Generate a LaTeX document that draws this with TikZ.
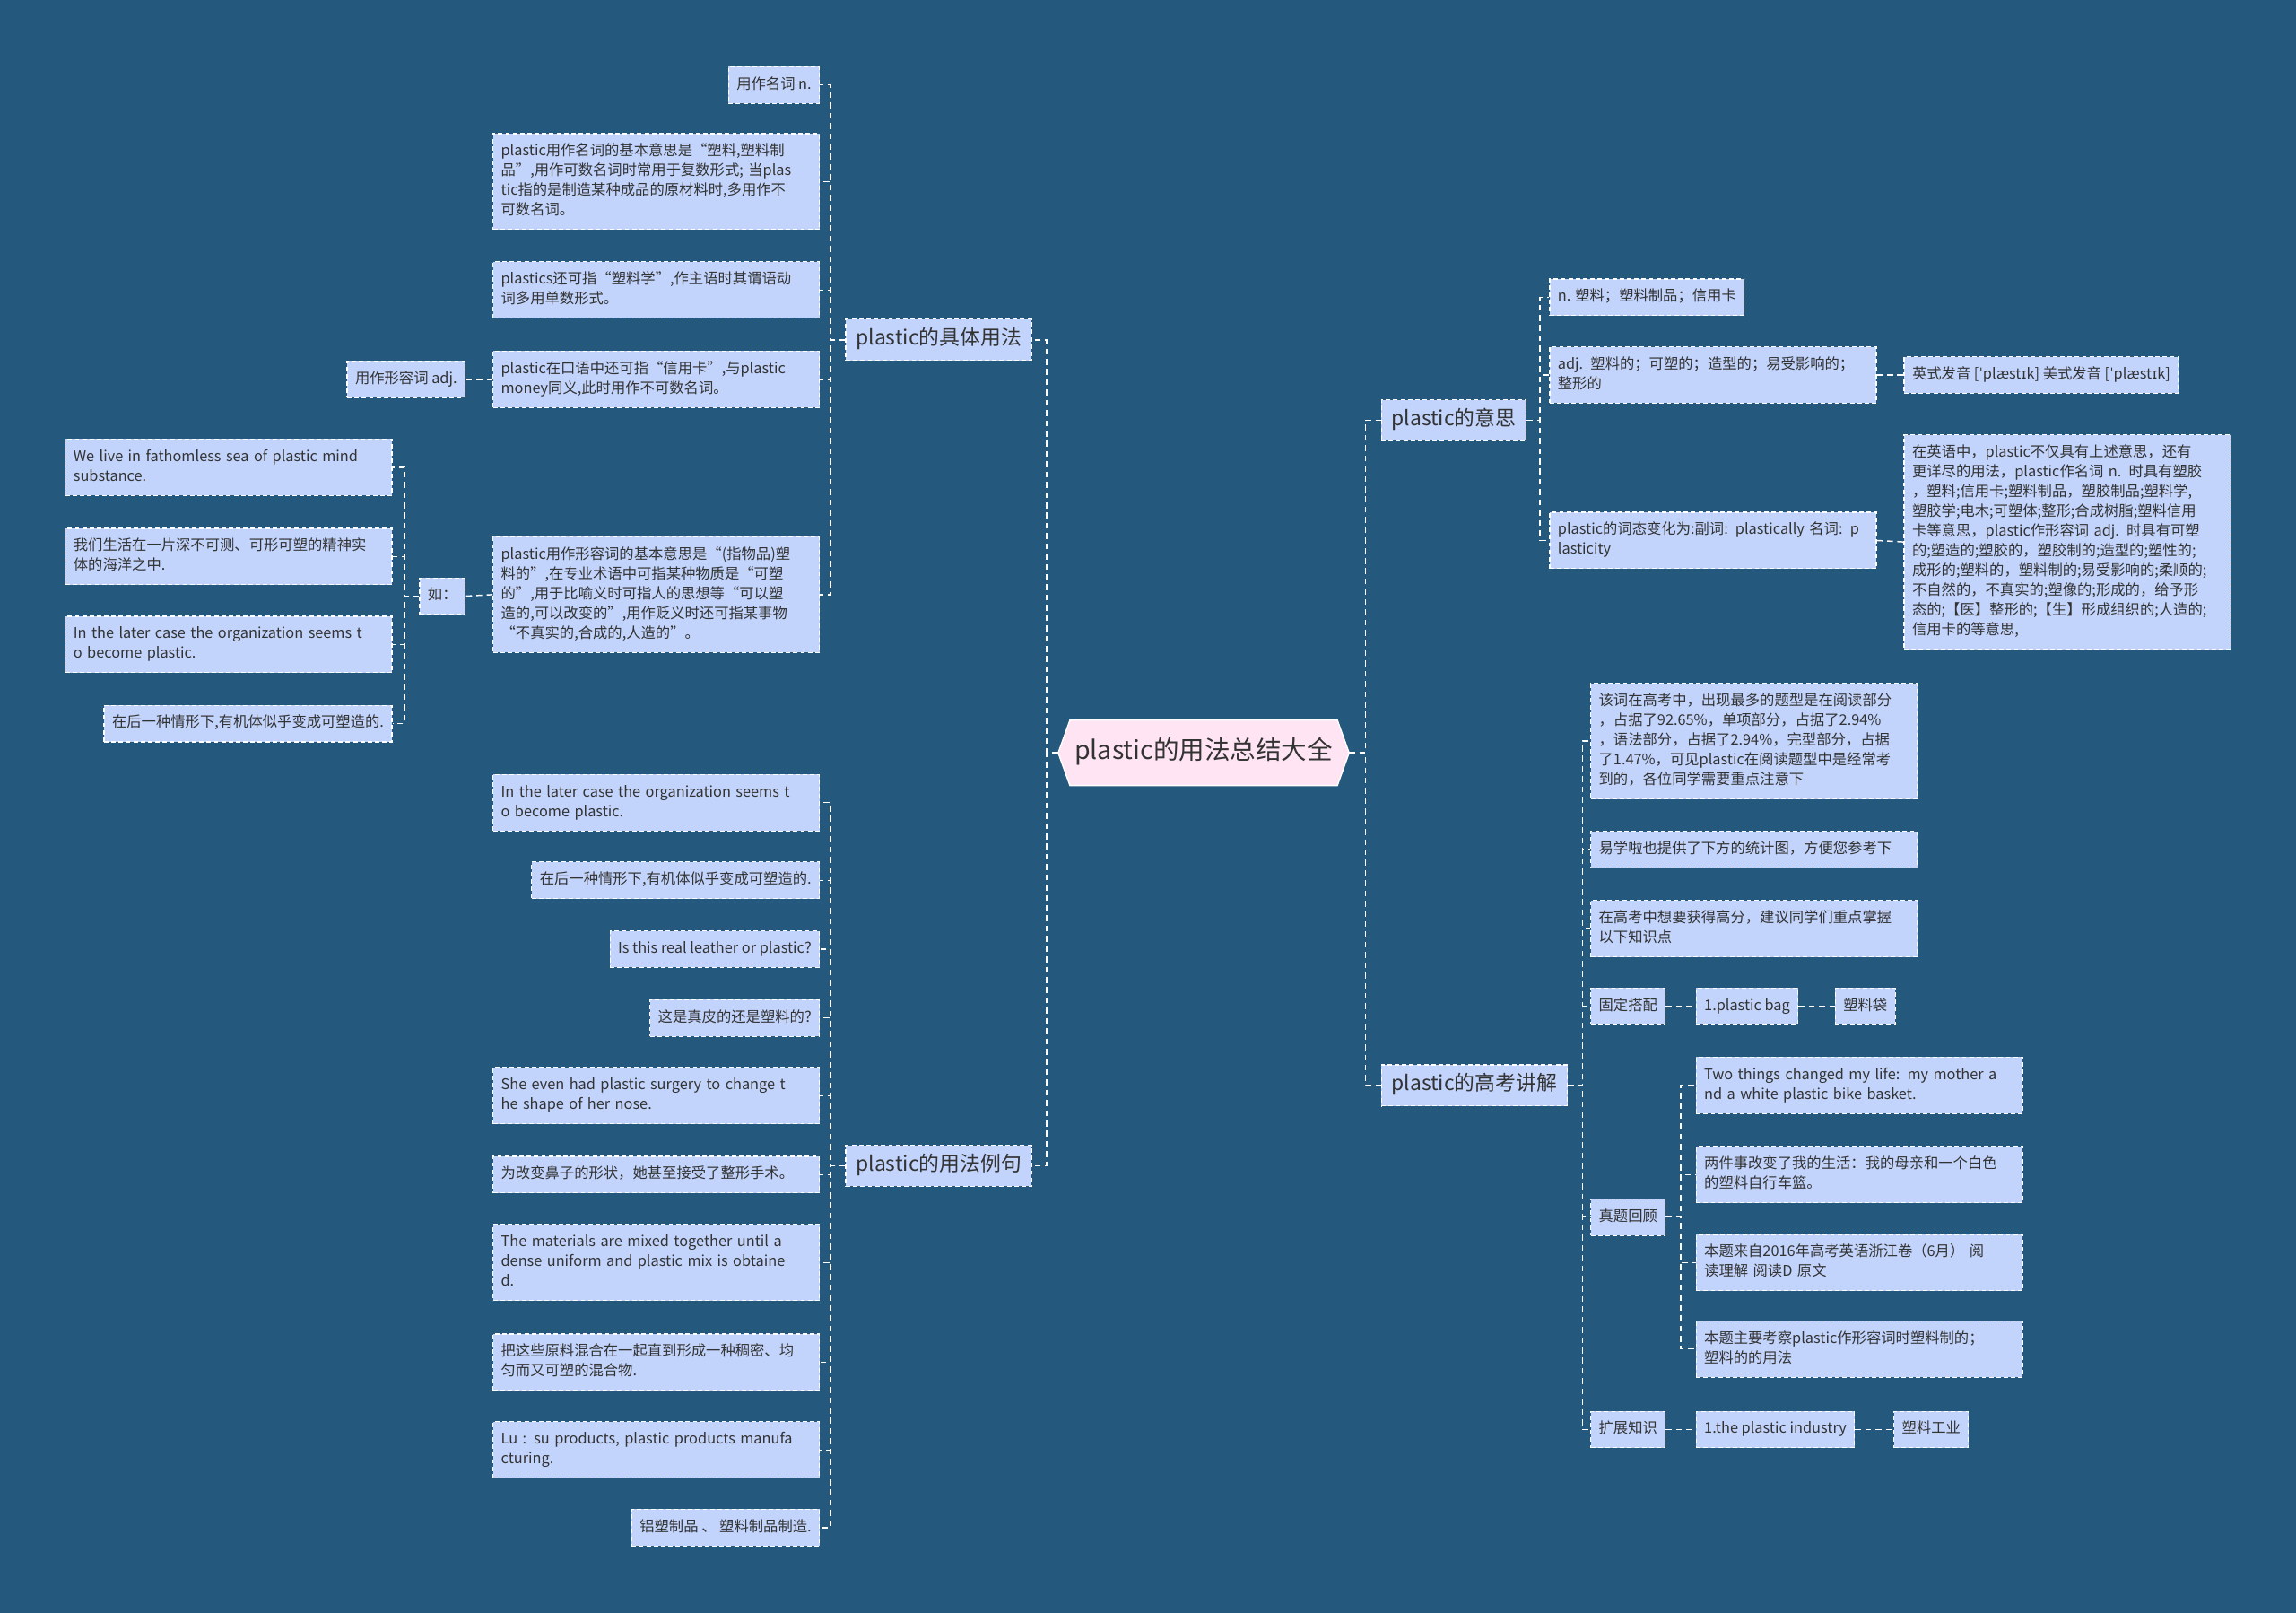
\documentclass[tikz,border=0pt]{standalone}
\usepackage{fontspec}
\setmainfont{Noto Sans CJK SC}
\newfontfamily\ipafont{DejaVu Sans}
\usetikzlibrary{backgrounds}
\definecolor{bgblue}{HTML}{24587C}
\definecolor{leafblue}{HTML}{C2D4FC}
\definecolor{rootpink}{HTML}{FFE4F4}
\definecolor{inkgray}{HTML}{333333}

\begin{document}
\begin{tikzpicture}[x=1pt, y=-1pt,
  link/.style={draw=white, line width=0.9pt, dash pattern=on 4pt off 3pt},
  leaf/.style={draw=white, line width=0.7pt, dash pattern=on 3pt off 2pt, fill=leafblue, text=inkgray,
    font=\fontsize{10}{13.5}\selectfont, inner xsep=5.5pt, inner ysep=5.75pt, align=left,
    execute at begin node=\strut, execute at end node=\strut},
  wide/.style={leaf, text width=212pt},
  topic/.style={leaf, font=\fontsize{14}{17}\selectfont, inner xsep=7pt, inner ysep=5.5pt},
  root/.style={text=inkgray, font=\fontsize{17.5}{21}\selectfont, inner xsep=11pt, inner ysep=11.5pt,
    execute at begin node=\strut}]
\begin{scope}[on background layer]
  \fill[bgblue] (0,0) rectangle (1568,1101);
\end{scope}

\node[root] (root) at (822,514) {plastic的用法总结大全};
\begin{scope}[on background layer]
  \filldraw[fill=rootpink, draw=white, line width=0.8pt] (root.west) -- ([xshift=8pt]root.north west)
    -- ([xshift=-8pt]root.north east) -- (root.east) -- ([xshift=-8pt]root.south east)
    -- ([xshift=8pt]root.south west) -- cycle;
\end{scope}

\node[topic, anchor=east] (usage) at (705,232) {plastic的具体用法};
\node[topic, anchor=east] (examples) at (705,796) {plastic的用法例句};
\node[topic, anchor=west] (meaning) at (943,287) {plastic的意思};
\node[topic, anchor=west] (exam) at (943,741) {plastic的高考讲解};

\node[leaf, anchor=east] (u1) at (560,58) {用作名词 n.};
\node[wide, anchor=east] (u2) at (560,124) {plastic用作名词的基本意思是“塑料,塑料制\\品”,用作可数名词时常用于复数形式; 当plas\\tic指的是制造某种成品的原材料时,多用作不\\可数名词。};
\node[wide, anchor=east] (u3) at (560,198) {plastics还可指“塑料学”,作主语时其谓语动\\词多用单数形式。};
\node[wide, anchor=east] (u4) at (560,259) {plastic在口语中还可指“信用卡”,与plastic\\money同义,此时用作不可数名词。};
\node[wide, anchor=east] (u5) at (560,406) {plastic用作形容词的基本意思是“(指物品)塑\\料的”,在专业术语中可指某种物质是“可塑\\的”,用于比喻义时可指人的思想等“可以塑\\造的,可以改变的”,用作贬义时还可指某事物\\“不真实的,合成的,人造的”。};
\node[leaf, anchor=east] (adj) at (318,259) {用作形容词 adj.};
\node[leaf, anchor=east] (eg) at (318,407) {如：};
\node[wide, anchor=east] (e1) at (268,319) {We live in fathomless sea of plastic mind\\substance.};
\node[wide, anchor=east] (e2) at (268,380) {我们生活在一片深不可测、可形可塑的精神实\\体的海洋之中.};
\node[wide, anchor=east] (e3) at (268,440) {In the later case the organization seems t\\o become plastic.};
\node[leaf, anchor=east] (e4) at (268,494) {在后一种情形下,有机体似乎变成可塑造的.};

\node[wide, anchor=east] (x1) at (560,548) {In the later case the organization seems t\\o become plastic.};
\node[leaf, anchor=east] (x2) at (560,601) {在后一种情形下,有机体似乎变成可塑造的.};
\node[leaf, anchor=east] (x3) at (560,648) {Is this real leather or plastic?};
\node[leaf, anchor=east] (x4) at (560,695) {这是真皮的还是塑料的?};
\node[wide, anchor=east] (x5) at (560,748) {She even had plastic surgery to change t\\he shape of her nose.};
\node[wide, anchor=east] (x6) at (560,802) {为改变鼻子的形状，她甚至接受了整形手术。};
\node[wide, anchor=east] (x7) at (560,862) {The materials are mixed together until a\\dense uniform and plastic mix is obtaine\\d.};
\node[wide, anchor=east] (x8) at (560,930) {把这些原料混合在一起直到形成一种稠密、均\\匀而又可塑的混合物.};
\node[wide, anchor=east] (x9) at (560,990) {Lu : su products, plastic products manufa\\cturing.};
\node[leaf, anchor=east] (x10) at (560,1043) {铝塑制品 、 塑料制品制造.};

\node[leaf, anchor=west] (m1) at (1058,203) {n. 塑料；塑料制品；信用卡};
\node[wide, anchor=west] (m2) at (1058,256) {adj. 塑料的；可塑的；造型的；易受影响的；\\整形的};
\node[wide, anchor=west] (m3) at (1058,369) {plastic的词态变化为:副词: plastically 名词: p\\lasticity};
\node[leaf, anchor=west] (pron) at (1300,256) {英式发音 [{\ipafont ˈ}plæst{\ipafont ɪ}k] 美式发音 [{\ipafont ˈ}plæst{\ipafont ɪ}k]};
\node[wide, anchor=west] (more) at (1300,370) {在英语中，plastic不仅具有上述意思，还有\\更详尽的用法，plastic作名词 n. 时具有塑胶\\，塑料;信用卡;塑料制品，塑胶制品;塑料学,\\塑胶学;电木;可塑体;整形;合成树脂;塑料信用\\卡等意思，plastic作形容词 adj. 时具有可塑\\的;塑造的;塑胶的，塑胶制的;造型的;塑性的;\\成形的;塑料的，塑料制的;易受影响的;柔顺的;\\不自然的，不真实的;塑像的;形成的，给予形\\态的;【医】整形的;【生】形成组织的;人造的;\\信用卡的等意思,};

\node[wide, anchor=west] (k1) at (1086,506) {该词在高考中，出现最多的题型是在阅读部分\\，占据了92.65\%，单项部分，占据了2.94\%\\，语法部分，占据了2.94\%，完型部分，占据\\了1.47\%，可见plastic在阅读题型中是经常考\\到的，各位同学需要重点注意下};
\node[wide, anchor=west] (k2) at (1086,580) {易学啦也提供了下方的统计图，方便您参考下};
\node[wide, anchor=west] (k3) at (1086,634) {在高考中想要获得高分，建议同学们重点掌握\\以下知识点};
\node[leaf, anchor=west] (fixed) at (1086,687) {固定搭配};
\node[leaf, anchor=west] (bag) at (1158,687) {1.plastic bag};
\node[leaf, anchor=west] (bagzh) at (1253,687) {塑料袋};
\node[leaf, anchor=west] (review) at (1086,831) {真题回顾};
\node[wide, anchor=west] (r1) at (1158,741) {Two things changed my life: my mother a\\nd a white plastic bike basket.};
\node[wide, anchor=west] (r2) at (1158,802) {两件事改变了我的生活：我的母亲和一个白色\\的塑料自行车篮。};
\node[wide, anchor=west] (r3) at (1158,862) {本题来自2016年高考英语浙江卷（6月） 阅\\读理解 阅读D 原文};
\node[wide, anchor=west] (r4) at (1158,921) {本题主要考察plastic作形容词时塑料制的；\\塑料的的用法};
\node[leaf, anchor=west] (ext) at (1086,976) {扩展知识};
\node[leaf, anchor=west] (ind) at (1158,976) {1.the plastic industry};
\node[leaf, anchor=west] (indzh) at (1293,976) {塑料工业};

\foreach \n in {usage,examples}
  \draw[link] (root.west) -- ++(-8,0) |- (\n.east);
\foreach \n in {meaning,exam}
  \draw[link] (root.east) -- ++(11,0) |- (\n.west);
\foreach \i in {1,...,5}
  \draw[link] (usage.west) -- ++(-10,0) |- (u\i.east);
\draw[link] (u4.west) -- (adj.east);
\draw[link] (u5.west) -- (eg.east);
\foreach \i in {1,...,4}
  \draw[link] (eg.west) -- ++(-10,0) |- (e\i.east);
\foreach \i in {1,...,10}
  \draw[link] (examples.west) -- ++(-10,0) |- (x\i.east);
\foreach \i in {1,2,3}
  \draw[link] (meaning.east) -- ++(9,0) |- (m\i.west);
\draw[link] (m2.east) -- (pron.west);
\draw[link] (m3.east) -- (more.west);
\foreach \n in {k1,k2,k3,fixed,review,ext}
  \draw[link] (exam.east) -- ++(10,0) |- (\n.west);
\draw[link] (fixed.east) -- (bag.west);
\draw[link] (bag.east) -- (bagzh.west);
\foreach \i in {1,...,4}
  \draw[link] (review.east) -- ++(10,0) |- (r\i.west);
\draw[link] (ext.east) -- (ind.west);
\draw[link] (ind.east) -- (indzh.west);
\end{tikzpicture}
\end{document}
